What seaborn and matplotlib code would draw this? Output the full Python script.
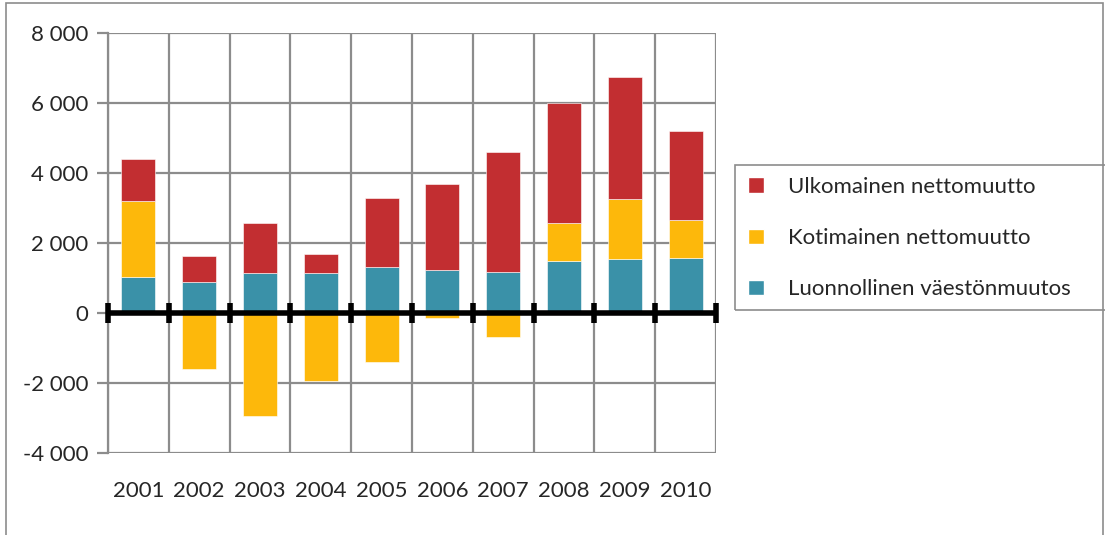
import matplotlib
matplotlib.use("Agg")
import matplotlib.pyplot as plt
import seaborn as sns
import numpy as np
from matplotlib.patches import Rectangle, Patch

years = ["2001", "2002", "2003", "2004", "2005", "2006", "2007", "2008", "2009", "2010"]
luonnollinen = [1040, 900, 1130, 1130, 1320, 1230, 1180, 1500, 1550, 1580]
kotimainen = [2160, -1600, -2950, -1950, -1400, -130, -680, 1060, 1720, 1090]
ulkomainen = [1200, 720, 1430, 570, 1980, 2470, 3430, 3450, 3470, 2530]
yticks = [-4000, -2000, 0, 2000, 4000, 6000, 8000]

labels = ["Ulkomainen nettomuutto", "Kotimainen nettomuutto", "Luonnollinen väestönmuutos"]
c_red, c_yel, c_teal = "#C22E31", "#FDB80B", "#3A91A8"

sns.set_style("white")
plt.rcParams["font.family"] = ["Lato", "DejaVu Sans"]

W, H = 1105, 535
fig = plt.figure(figsize=(W / 100, H / 100), dpi=100)
ax = fig.add_axes([108 / W, (H - 453) / H, (716 - 108) / W, (453 - 33) / H])

lu = np.array(luonnollinen, dtype=float)
ko = np.array(kotimainen, dtype=float)
ul = np.array(ulkomainen, dtype=float)
ko_bottom = np.where(ko > 0, lu, 0)
ul_bottom = lu + np.clip(ko, 0, None)

bw = 0.56
kw = dict(width=bw, ax=ax, saturation=1, zorder=3, edgecolor="white", linewidth=0.4)
sns.barplot(x=years, y=lu, color=c_teal, **kw)
sns.barplot(x=years, y=ko, bottom=ko_bottom, color=c_yel, **kw)
sns.barplot(x=years, y=ul, bottom=ul_bottom, color=c_red, **kw)

ax.set_xlim(-0.5, len(years) - 0.5)
ax.set_ylim(-4000, 8000)
ax.set_yticks(yticks)
ax.set_yticklabels([f"{v:,}".replace(",", " ") for v in yticks])
ax.set_xlabel("")
ax.set_ylabel("")

grid_c = "#8C8C8C"
for yv in yticks:
    ax.axhline(yv, color=grid_c, lw=1.6, zorder=1)
bounds = np.arange(-0.5, len(years), 1.0)
for xv in bounds:
    ax.axvline(xv, color=grid_c, lw=1.6, zorder=1)

ax.axhline(0, color="black", lw=4, zorder=5)
ax.plot(bounds, np.zeros_like(bounds), ls="none", marker="|", ms=14, mew=4, color="black", zorder=6, clip_on=False)

for s in ["top", "right", "bottom"]:
    ax.spines[s].set_visible(False)
ax.spines["left"].set_color(grid_c)
ax.spines["left"].set_linewidth(1.6)

ax.tick_params(axis="y", length=8, width=1.6, color=grid_c, direction="out", labelsize=16, pad=6, left=True)
ax.tick_params(axis="x", length=0, labelsize=16, pad=20)

handles = [Patch(facecolor=c_red, label=labels[0]),
           Patch(facecolor=c_yel, label=labels[1]),
           Patch(facecolor=c_teal, label=labels[2])]
leg = fig.legend(handles=handles, loc="upper left", bbox_to_anchor=(748 / W, (H - 177) / H),
                 frameon=False, fontsize=16, handlelength=0.7, handleheight=0.7,
                 labelspacing=1.4, borderpad=0, handletextpad=1.1, borderaxespad=0)

fig.patches.append(Rectangle((735 / W, (H - 310) / H), 400 / W, 145 / H, transform=fig.transFigure,
                             fill=False, edgecolor=grid_c, lw=1.2))
fig.patches.append(Rectangle((6 / W, -0.1), (W - 6 - 2) / W, (H - 3) / H + 0.1, transform=fig.transFigure,
                             fill=False, edgecolor=grid_c, lw=1.2))

fig.savefig("out.png", dpi=100)
